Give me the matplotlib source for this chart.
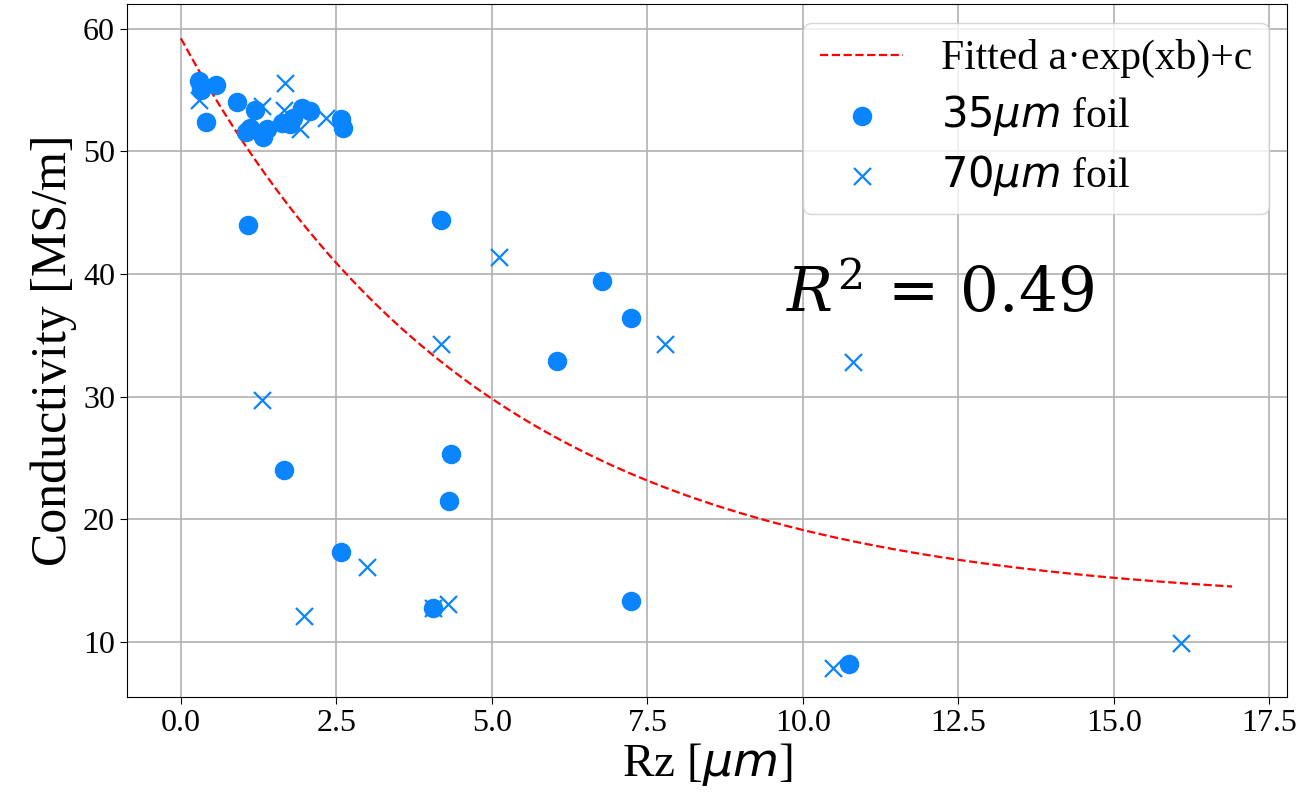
import numpy as np
import matplotlib
matplotlib.use('Agg')
from matplotlib import pyplot as plt

plt.rcParams['font.family'] = ['Liberation Serif', 'DejaVu Sans']
plt.rcParams['mathtext.fontset'] = 'dejavusans'

# 35 um foil measurements (Rz [um], conductivity [MS/m])
rz_35 = [0.29, 0.57, 0.33, 0.41, 0.91, 1.19, 1.11, 1.05, 1.32, 1.38, 1.62, 1.75,
         1.81, 1.94, 2.07, 2.58, 2.60,
         1.08, 4.18, 6.77, 7.24, 6.05, 4.34, 4.31, 1.66, 2.57, 4.05, 7.24, 10.74]
sig_35 = [55.7, 55.4, 55.0, 52.4, 54.0, 53.4, 51.9, 51.6, 51.2, 51.8, 52.3, 52.2,
          52.7, 53.5, 53.3, 52.6, 51.9,
          44.0, 44.4, 39.4, 36.4, 32.9, 25.3, 21.5, 24.0, 17.3, 12.8, 13.3, 8.2]

# 70 um foil measurements
rz_70 = [0.29, 1.67, 1.30, 1.65, 1.91, 2.34,
         4.18, 5.12, 7.79, 10.81, 1.30, 2.99, 1.98, 4.29, 4.05, 10.49, 16.08]
sig_70 = [54.2, 55.6, 53.7, 53.4, 51.8, 52.7,
          34.3, 41.4, 34.3, 32.8, 29.7, 16.1, 12.1, 13.1, 12.8, 7.9, 9.9]

# fitted a*exp(x*b)+c
fit_a, fit_b, fit_c = 46.2, -0.202, 13.0
fit_xmax = 16.9
r2 = 0.49

blue = '#0a84ff'

fig = plt.figure(figsize=(13.07, 8.06), dpi=100)
ax = fig.add_axes([0.097, 0.135, 0.888, 0.86])

xf = np.linspace(0, fit_xmax, 200)
ax.plot(xf, fit_a*np.exp(xf*fit_b) + fit_c, '--', color='red', linewidth=1.6,
        label='Fitted a·exp(xb)+c', zorder=3)
ax.scatter(rz_35, sig_35, s=170, color=blue, marker='o', label=r'$35\mu m$ foil', zorder=4)
ax.scatter(rz_70, sig_70, s=150, color=blue, marker='x', linewidths=1.6,
           label=r'$70\mu m$ foil', zorder=4)

ax.text(12.2, 36.9, r'$R^2\,=\,%.2f$' % r2, fontsize=44, ha='center', va='baseline',
        math_fontfamily='dejavuserif')

ax.grid(True, color='#b0b0b0', linewidth=1.2)
ax.set_axisbelow(True)
ax.set_xticks(np.arange(0, 17.6, 2.5))
ax.set_xticklabels(['%.1f' % t for t in np.arange(0, 17.6, 2.5)])
ax.tick_params(labelsize=23, length=5)
ax.set_xlabel(r'Rz [$\mu m$]', fontsize=34, labelpad=2)
ax.set_ylabel('Conductivity [MS/m]', fontsize=36, labelpad=4)
ax.set_xlim(-0.87, 17.79)
ax.set_ylim(5.5, 62.0)

ax.legend(loc='upper right', fontsize=30, borderpad=0.4, labelspacing=0.35,
          handlelength=2.0, handletextpad=0.9, borderaxespad=0.45)

fig.savefig('out.png', dpi=100)
